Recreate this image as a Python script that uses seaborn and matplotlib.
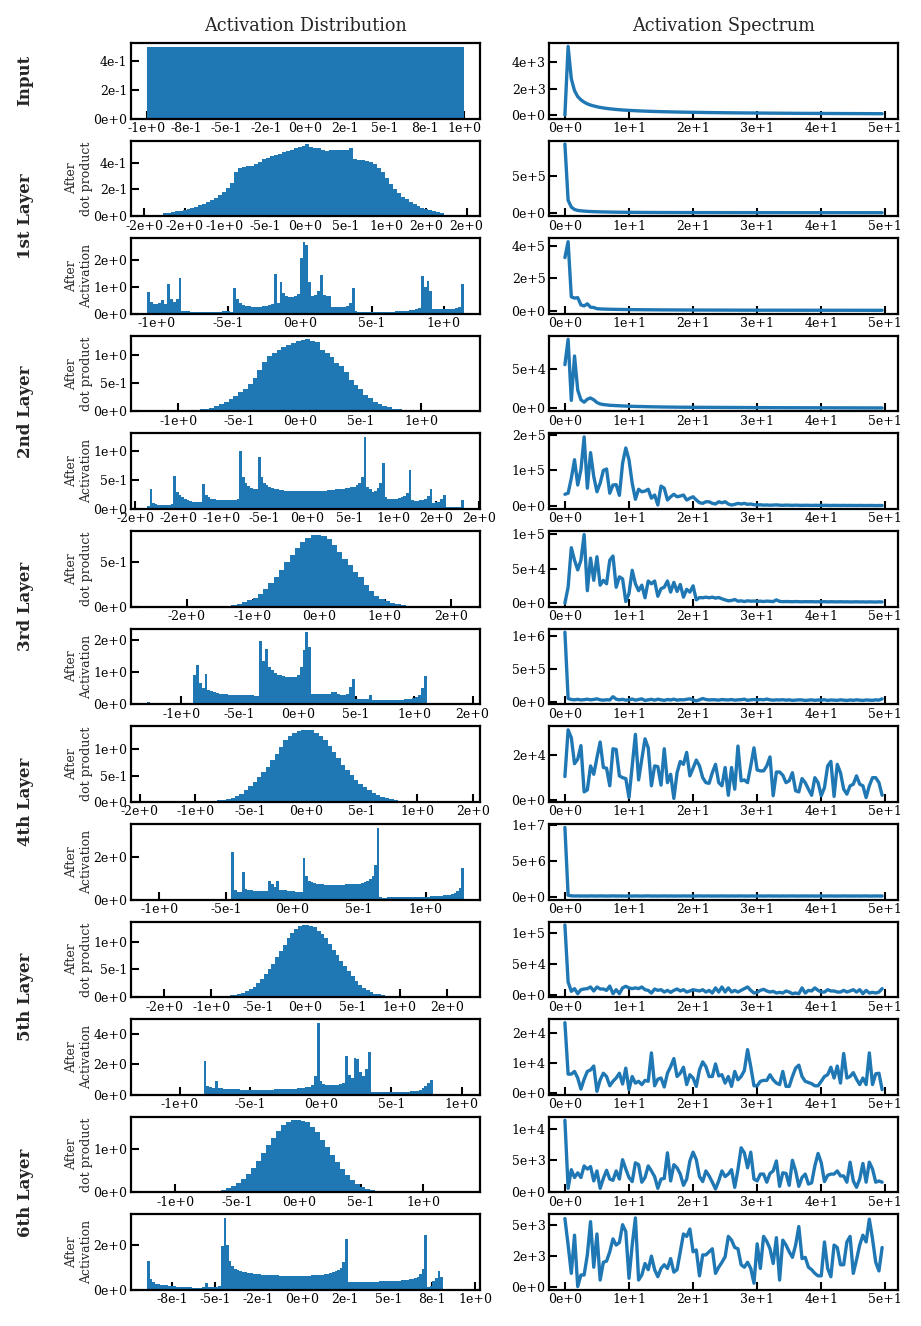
import numpy as np
import pandas as pd
import matplotlib
matplotlib.use("Agg")
import matplotlib.pyplot as plt
from matplotlib.ticker import FuncFormatter
import seaborn as sns

# ---------------- data ----------------
ROW_LABELS = ["Input", "1st Layer", "2nd Layer", "3rd Layer", "4th Layer", "5th Layer", "6th Layer"]
COL_TITLES = ["Activation Distribution", "Activation Spectrum"]
SUB_LABELS = ["After\ndot product", "After\nActivation"]

FREQ_STEP = 0.5  # spectrum sample spacing

# histogram ranges (lo, hi) and bin heights (density)
H_input_range = (-1.0, 1.0)
H_input = [0.5, 0.5, 0.5, 0.5]

H1_dot_range = (-1.97, 1.97)
H1_dot = [0.002, 0.004, 0.006, 0.012, 0.02, 0.026, 0.031, 0.036, 0.042, 0.048,
          0.054, 0.062, 0.07, 0.08, 0.092, 0.105, 0.12, 0.135, 0.155, 0.18,
          0.21, 0.25, 0.33, 0.36, 0.37, 0.375, 0.38, 0.395, 0.41, 0.43,
          0.44, 0.45, 0.46, 0.47, 0.48, 0.49, 0.5, 0.51, 0.52, 0.53,
          0.54, 0.52, 0.515, 0.51, 0.5, 0.49, 0.495, 0.5, 0.495, 0.5,
          0.5, 0.51, 0.43, 0.425, 0.42, 0.415, 0.41, 0.39, 0.36, 0.33,
          0.29, 0.24, 0.2, 0.17, 0.145, 0.125, 0.105, 0.09, 0.077, 0.06,
          0.055, 0.045, 0.036, 0.028, 0.02, 0.012, 0.007, 0.004, 0.002, 0.001]

H1_act_range = (-1.068, 1.143)
H1_act = [0.8, 0.45, 0.35, 0.35, 0.4, 0.5, 0.35, 1.1, 0.55, 0.45,
          0.55, 1.35, 0.09, 0.09, 0.09, 0.08, 0.08, 0.08, 0.08, 0.07,
          0.07, 0.07, 0.07, 0.07, 0.08, 0.08, 0.09, 0.09, 0.1, 0.08,
          0.95, 0.55, 0.4, 0.33, 0.3, 0.28, 0.27, 0.26, 0.26, 0.27,
          0.28, 0.3, 0.33, 0.38, 1.5, 0.4, 1.2, 0.78, 0.68, 0.62,
          0.62, 0.66, 0.75, 2.1, 2.7, 2.6, 1.2, 0.66, 0.7, 0.85,
          1.45, 0.72, 0.66, 0.66, 0.26, 0.25, 0.25, 0.26, 0.27, 0.3,
          0.4, 0.95, 0.09, 0.08, 0.07, 0.07, 0.07, 0.07, 0.07, 0.07,
          0.07, 0.07, 0.07, 0.07, 0.07, 0.08, 0.09, 0.1, 0.1, 0.11,
          0.12, 0.13, 0.15, 0.17, 0.2, 1.4, 1.0, 1.22, 0.85, 0.17,
          0.17, 0.17, 0.17, 0.17, 0.17, 0.18, 0.19, 0.2, 0.25, 1.13]

H2_dot_range = (-1.26, 1.355)
H2_dot = [0.001, 0.001, 0.002, 0.003, 0.004, 0.006, 0.008, 0.011, 0.015, 0.02,
          0.03, 0.04, 0.05, 0.065, 0.1, 0.13, 0.17, 0.22, 0.28, 0.34,
          0.4, 0.48, 0.6, 0.74, 0.88, 0.98, 1.04, 1.09, 1.14, 1.19,
          1.22, 1.25, 1.27, 1.28, 1.26, 1.23, 1.1, 1.04, 0.97, 0.86,
          0.8, 0.7, 0.56, 0.47, 0.39, 0.3, 0.23, 0.17, 0.13, 0.1,
          0.07, 0.05, 0.035, 0.025, 0.018, 0.012, 0.008, 0.006, 0.004, 0.003,
          0.002, 0.002, 0.001, 0.001, 0.001, 0.001]

H2_act_range = (-1.865, 1.825)
H2_act = [0.05, 0.34, 0.1, 0.08, 0.07, 0.07, 0.07, 0.07, 0.07, 0.08,
          0.58, 0.3, 0.24, 0.2, 0.17, 0.15, 0.14, 0.13, 0.12, 0.12,
          0.12, 0.43, 0.25, 0.2, 0.18, 0.17, 0.16, 0.16, 0.15, 0.15,
          0.15, 0.15, 0.16, 0.16, 0.17, 1.0, 0.55, 0.45, 0.4, 0.37,
          0.35, 0.34, 0.9, 0.55, 0.45, 0.41, 0.38, 0.36, 0.35, 0.34,
          0.33, 0.33, 0.32, 0.32, 0.32, 0.32, 0.32, 0.32, 0.32, 0.32,
          0.32, 0.32, 0.32, 0.32, 0.32, 0.32, 0.32, 0.32, 0.33, 0.33,
          0.33, 0.34, 0.34, 0.35, 0.35, 0.36, 0.37, 0.38, 0.39, 0.41,
          0.45, 0.55, 1.25, 0.38, 0.34, 0.3, 0.32, 0.36, 0.45, 0.8,
          0.2, 0.18, 0.17, 0.17, 0.18, 0.19, 0.2, 0.22, 0.28, 0.68,
          0.15, 0.14, 0.14, 0.15, 0.16, 0.18, 0.22, 0.35, 0.1, 0.12,
          0.13, 0.18, 0.25, 0.03, 0.03, 0.03, 0.03, 0.03, 0.04, 0.16]

H3_dot_range = (-2.607, 2.204)
H3_dot = [0, 0, 0, 0, 0, 0, 0, 0, 0, 0,
          0.001, 0.002, 0.003, 0.005, 0.007, 0.01, 0.018, 0.03, 0.05, 0.07,
          0.1, 0.14, 0.2, 0.26, 0.33, 0.41, 0.5, 0.58, 0.66, 0.72,
          0.77, 0.795, 0.803, 0.79, 0.75, 0.69, 0.61, 0.53, 0.47, 0.39,
          0.33, 0.24, 0.18, 0.12, 0.085, 0.058, 0.04, 0.025, 0.015, 0.008,
          0.005, 0.003, 0.002, 0.001, 0.001, 0, 0, 0, 0, 0]

H3_act_range = (-1.295, 1.427)
H3_act = [0.08, 0, 0, 0, 0, 0, 0, 0, 0, 0,
          0, 0, 0, 0, 0, 0, 0.9, 1.22, 0.65, 0.5,
          0.94, 0.45, 0.4, 0.37, 0.35, 0.33, 0.32, 0.31, 0.3, 0.29,
          0.29, 0.28, 0.28, 0.28, 0.28, 0.28, 0.28, 0.27, 0.27, 1.95,
          1.35, 1.71, 1.17, 1.05, 0.96, 0.92, 0.9, 0.88, 0.86, 0.85,
          0.84, 0.85, 0.9, 1.17, 1.69, 2.23, 1.79, 0.33, 0.32, 0.32,
          0.32, 0.32, 0.32, 0.33, 0.39, 0.38, 0.31, 0.3, 0.3, 0.32,
          0.55, 0.78, 0.16, 0.165, 0.165, 0.165, 0.17, 0.29, 0.125, 0.125,
          0.125, 0.125, 0.125, 0.125, 0.125, 0.13, 0.13, 0.135, 0.14, 0.15,
          0.16, 0.17, 0.19, 0.22, 0.3, 0.5, 0.88, 0, 0, 0,
          0, 0, 0, 0, 0, 0, 0, 0, 0, 0]

H4_dot_range = (-1.435, 1.421)
H4_dot = [0, 0, 0, 0, 0, 0.001, 0.001, 0.002, 0.002, 0.003,
          0.003, 0.005, 0.007, 0.01, 0.014, 0.02, 0.03, 0.045, 0.06, 0.08,
          0.11, 0.15, 0.22, 0.3, 0.38, 0.47, 0.56, 0.67, 0.8, 0.92,
          1.05, 1.18, 1.25, 1.31, 1.35, 1.37, 1.37, 1.36, 1.31, 1.25,
          1.17, 1.07, 0.95, 0.84, 0.71, 0.6, 0.51, 0.42, 0.35, 0.28,
          0.22, 0.17, 0.13, 0.1, 0.07, 0.05, 0.03, 0.02, 0.013, 0.009,
          0.006, 0.005, 0.004, 0.003, 0.002, 0.002, 0.001, 0.001, 0, 0, 0, 0]

H4_act_range = (-1.093, 1.288)
H4_act = [0, 0, 0, 0, 0, 0, 0, 0, 0, 0,
          0, 0, 0, 0, 0, 0, 0, 0, 0, 0,
          0, 0, 0, 0, 0, 0, 0, 0, 0, 0,
          0, 0, 2.19, 0.45, 0.36, 0.33, 1.27, 0.48, 0.44, 0.42,
          0.41, 0.41, 0.4, 0.4, 0.4, 0.4, 0.84, 0.7, 0.6, 0.84,
          0.44, 0.43, 0.42, 0.41, 0.4, 0.38, 0.37, 0.37, 0.37, 1.94,
          1.1, 0.88, 0.82, 0.77, 0.74, 0.72, 0.7, 0.69, 0.68, 0.68,
          0.68, 0.68, 0.68, 0.69, 0.69, 0.7, 0.7, 0.71, 0.72, 0.73,
          0.74, 0.77, 0.8, 0.86, 0.95, 1.1, 1.6, 3.35, 0.1, 0.09,
          0.09, 0.095, 0.095, 0.1, 0.1, 0.1, 0.1, 0.1, 0.105, 0.11,
          0.11, 0.11, 0.115, 0.12, 0.12, 0.125, 0.13, 0.14, 0.15, 0.16,
          0.17, 0.18, 0.19, 0.21, 0.23, 0.26, 0.3, 0.38, 0.55, 1.48]

H5_dot_range = (-1.682, 1.68)
H5_dot = [0, 0, 0, 0, 0, 0, 0.001, 0.001, 0.001, 0.002,
          0.002, 0.003, 0.003, 0.004, 0.005, 0.006, 0.007, 0.008, 0.009, 0.01,
          0.012, 0.02, 0.03, 0.045, 0.06, 0.08, 0.11, 0.14, 0.19, 0.26,
          0.33, 0.41, 0.5, 0.6, 0.72, 0.84, 0.95, 1.06, 1.16, 1.24,
          1.28, 1.3, 1.3, 1.29, 1.26, 1.2, 1.14, 1.06, 0.96, 0.86,
          0.76, 0.66, 0.57, 0.47, 0.38, 0.3, 0.22, 0.16, 0.12, 0.09,
          0.065, 0.05, 0.04, 0.025, 0.02, 0.015, 0.01, 0.008, 0.006, 0.005,
          0.004, 0.003, 0.003, 0.002, 0.002, 0.001, 0.001, 0.001, 0, 0, 0, 0, 0, 0]

H5_act_range = (-1.235, 1.017)
H5_act = [0, 0, 0, 0, 0, 0, 0, 0, 0, 0,
          0, 0, 0, 0, 0, 0, 0, 0, 0, 0,
          2.2, 0.6, 0.48, 0.44, 0.92, 0.47, 0.42, 0.4, 0.38, 0.37,
          0.36, 0.35, 0.35, 0.34, 0.34, 0.33, 0.33, 0.33, 0.33, 0.33,
          0.33, 0.33, 0.34, 0.34, 0.34, 0.35, 0.35, 0.36, 0.37, 0.38,
          0.39, 0.4, 0.41, 0.42, 0.44, 0.46, 0.48, 0.52, 0.65, 1.25,
          4.72, 0.9, 0.7, 0.66, 0.65, 0.64, 0.64, 0.66, 0.68, 0.75,
          2.53, 1.3, 1.1, 2.4, 2.35, 1.5, 1.25, 1.7, 2.8, 0.15,
          0.15, 0.15, 0.15, 0.16, 0.16, 0.16, 0.17, 0.17, 0.18, 0.18,
          0.19, 0.2, 0.21, 0.22, 0.24, 0.26, 0.3, 0.45, 0.6, 0.8,
          1.0, 0, 0, 0, 0, 0, 0, 0, 0, 0, 0, 0]

H6_dot_range = (-1.228, 1.33)
H6_dot = [0, 0, 0, 0, 0, 0.001, 0.001, 0.002, 0.003, 0.004,
          0.005, 0.007, 0.01, 0.015, 0.025, 0.05, 0.09, 0.15, 0.21, 0.3,
          0.43, 0.56, 0.72, 0.92, 1.1, 1.25, 1.42, 1.55, 1.62, 1.66,
          1.66, 1.65, 1.62, 1.52, 1.4, 1.22, 1.04, 0.86, 0.7, 0.53,
          0.39, 0.28, 0.19, 0.13, 0.08, 0.045, 0.025, 0.012, 0.008, 0.005,
          0.003, 0.002, 0.001, 0.001, 0, 0, 0, 0, 0, 0, 0, 0, 0, 0]

H6_act_range = (-0.895, 0.937)
H6_act = [1.29, 0.47, 0.36, 0.28, 0.25, 0.23, 0.22, 0.21, 0.2, 0.18,
          0.16, 0.15, 0.14, 0.13, 0.12, 0.12, 0.12, 0.11, 0.11, 0.11,
          0.11, 0.12, 0.33, 0.15, 0.14, 0.15, 0.15, 0.16, 1.95, 3.2,
          2.0, 1.3, 1.05, 0.95, 0.88, 0.84, 0.81, 0.79, 0.77, 0.74,
          0.72, 0.7, 0.69, 0.68, 0.67, 0.67, 0.66, 0.66, 0.65, 0.65,
          0.64, 0.64, 0.64, 0.64, 0.64, 0.64, 0.64, 0.64, 0.64, 0.64,
          0.64, 0.64, 0.65, 0.65, 0.66, 0.67, 0.68, 0.7, 0.72, 0.75,
          0.78, 0.83, 0.9, 1.0, 1.25, 2.27, 0.34, 0.34, 0.34, 0.34,
          0.35, 0.35, 0.35, 0.35, 0.36, 0.36, 0.37, 0.37, 0.38, 0.38,
          0.39, 0.39, 0.4, 0.41, 0.41, 0.42, 0.43, 0.44, 0.46, 0.48,
          0.5, 0.54, 0.6, 0.7, 0.95, 2.45, 0.12, 0.18, 0.42, 0.55,
          0.86, 0.56, 0, 0, 0, 0, 0, 0, 0, 0]

# spectra (100 samples, spacing 0.5)
S_input = [0, 5200, 2750, 1850, 1400, 1150, 980, 850, 760, 690,
           630, 580, 540, 505, 475, 450, 425, 405, 385, 370,
           355, 342, 330, 318, 308, 298, 289, 281, 273, 266,
           259, 253, 247, 241, 236, 231, 226, 221, 217, 213,
           209, 205, 201, 198, 194, 191, 188, 185, 182, 179,
           176, 174, 171, 169, 166, 164, 162, 160, 158, 156,
           154, 152, 150, 148, 146, 144, 143, 141, 139, 138,
           136, 135, 133, 132, 130, 129, 128, 126, 125, 124,
           123, 121, 120, 119, 118, 117, 116, 115, 114, 113,
           112, 111, 110, 109, 108, 107, 106, 105, 104, 103]

S1_dot = [930000, 170000, 77000, 45000, 32000, 27000, 23000, 20000, 17500, 15500,
          14000, 13000, 12000, 11000, 10000, 9300, 8600, 8000, 7500, 7000,
          6500, 6200, 5900, 5600, 5300, 5100, 4900, 4700, 4500, 4300,
          4100, 4000, 3900, 3800, 3700, 3600, 3500, 3400, 3300, 3200,
          3100, 3050, 3000, 2950, 2900, 2850, 2800, 2750, 2700, 2650,
          2600, 2570, 2540, 2510, 2480, 2450, 2420, 2390, 2360, 2330,
          2300, 2270, 2240, 2210, 2180, 2150, 2120, 2090, 2060, 2030,
          2000, 1980, 1960, 1940, 1920, 1900, 1880, 1860, 1840, 1820,
          1800, 1780, 1760, 1740, 1720, 1700, 1680, 1660, 1640, 1620,
          1600, 1590, 1580, 1570, 1560, 1550, 1540, 1530, 1520, 1510]

S1_act = [327000, 425000, 85000, 77000, 80000, 35000, 29000, 42000, 21000, 19000,
          12000, 10500, 9500, 9000, 8500, 8000, 7600, 7200, 6900, 6600,
          6300, 6100, 5900, 5700, 5500, 5300, 5100, 4950, 4800, 4650,
          4500, 4400, 4300, 4200, 4100, 4000, 3900, 3800, 3700, 3600,
          3550, 3500, 3450, 3400, 3350, 3300, 3250, 3200, 3150, 3100,
          3050, 3000, 2950, 2900, 2850, 2800, 2750, 2700, 2650, 2600,
          2580, 2560, 2540, 2520, 2500, 2480, 2460, 2440, 2420, 2400,
          2380, 2360, 2340, 2320, 2300, 2280, 2260, 2240, 2220, 2200,
          2180, 2160, 2140, 2120, 2100, 2080, 2060, 2040, 2020, 2000,
          1980, 1960, 1940, 1920, 1900, 1880, 1860, 1840, 1820, 1800]

S2_dot = [55000, 87000, 10000, 66000, 23000, 10700, 7700, 11500, 13000, 10700,
          7300, 5500, 4700, 4300, 3800, 3600, 3400, 3200, 3000, 2800,
          2600, 2500, 2400, 2300, 2200, 2100, 2000, 1900, 1850, 1800,
          1700, 1650, 1600, 1550, 1500, 1450, 1400, 1380, 1360, 1330,
          1300, 1280, 1260, 1240, 1220, 1200, 1180, 1160, 1140, 1120,
          1100, 1080, 1060, 1040, 1020, 1000, 980, 960, 940, 920,
          900, 880, 860, 840, 820, 800, 790, 780, 770, 760,
          750, 740, 730, 720, 710, 700, 690, 680, 670, 660,
          650, 640, 630, 620, 610, 600, 590, 580, 570, 560,
          550, 540, 530, 520, 510, 500, 490, 480, 470, 460]

S2_act = [33000, 36000, 78000, 130000, 59000, 102000, 194000, 50000, 150000, 83000,
          40000, 64000, 100000, 104000, 36000, 59000, 60000, 30000, 120000, 163000,
          130000, 64000, 19000, 47000, 40000, 42000, 47000, 22000, 31000, 3000,
          56000, 50000, 17000, 26000, 33000, 26000, 28000, 31000, 17000, 22000,
          26000, 17000, 9400, 7500, 12000, 12000, 7500, 5700, 12000, 9000,
          12000, 5700, 2800, 4700, 7500, 5700, 7500, 4700, 5700, 3800,
          2800, 3500, 2500, 3000, 2200, 2800, 3200, 2400, 2000, 2600,
          2300, 1900, 2500, 2100, 1800, 2200, 2000, 1700, 2100, 1900,
          1600, 2000, 1800, 1500, 1900, 1700, 1600, 1800, 1500, 1700,
          1600, 1400, 1700, 1500, 1400, 1600, 1500, 1300, 1500, 1400]

S3_dot = [0, 23000, 80000, 62000, 48000, 62000, 99000, 18000, 65000, 33000,
          67000, 26000, 33000, 28000, 62000, 68000, 23000, 38000, 35000, 2400,
          14000, 47500, 28000, 18000, 26000, 7800, 32000, 28000, 32000, 10000,
          21000, 23000, 32000, 16000, 30000, 17000, 27000, 8700, 20000, 16000,
          25000, 4800, 8200, 7800, 8700, 7800, 8700, 7300, 8200, 6300,
          4800, 3400, 3900, 5300, 2900, 3400, 2400, 3400, 2900, 3100,
          2600, 2900, 2400, 3000, 2700, 2300, 4800, 2600, 2200, 2400,
          2300, 2100, 2400, 2200, 2000, 2300, 2100, 2200, 2000, 2100,
          2000, 2200, 1900, 2100, 2000, 1900, 2100, 1900, 2000, 1800,
          1900, 2000, 1800, 1900, 1700, 1900, 1800, 1700, 1900, 1800]

S3_act = [1060000, 50000, 35000, 30000, 38000, 28000, 33000, 40000, 30000, 36000,
          45000, 30000, 25000, 32000, 28000, 78000, 40000, 30000, 38000, 25000,
          30000, 42000, 25000, 35000, 45000, 20000, 30000, 38000, 25000, 40000,
          30000, 22000, 35000, 28000, 40000, 25000, 32000, 30000, 38000, 45000,
          28000, 15000, 30000, 50000, 35000, 28000, 32000, 30000, 25000, 35000,
          30000, 28000, 35000, 25000, 30000, 32000, 40000, 22000, 30000, 35000,
          28000, 35000, 30000, 42000, 30000, 25000, 30000, 28000, 32000, 25000,
          30000, 22000, 25000, 30000, 28000, 20000, 25000, 30000, 22000, 28000,
          25000, 32000, 20000, 28000, 25000, 22000, 30000, 25000, 20000, 28000,
          22000, 30000, 25000, 20000, 28000, 25000, 22000, 30000, 25000, 45000]

S4_dot = [10300, 31000, 27500, 16000, 18000, 24000, 3500, 4400, 15000, 11300,
          18700, 25600, 14300, 14000, 6200, 22600, 22300, 10600, 9800, 9400,
          1000, 15000, 29000, 8800, 18000, 27000, 23000, 6200, 15000, 14700,
          6500, 22600, 7600, 11300, 600, 12000, 17000, 15700, 21000, 10600,
          14000, 17600, 15000, 9800, 7600, 7300, 12000, 15700, 7600, 6200,
          14300, 2000, 14300, 4700, 23800, 8400, 8800, 7600, 15000, 23000,
          13200, 12800, 12800, 15000, 19000, 1800, 12300, 12300, 10900, 7600,
          8400, 12000, 4000, 3500, 9400, 7600, 4700, 2000, 9800, 7600,
          1800, 5400, 15000, 17000, 1500, 15700, 12000, 4700, 2500, 6200,
          6900, 10600, 6900, 6200, 1000, 6200, 9800, 9800, 7600, 2000]

S4_act = [9700000, 190000, 110000, 90000, 100000, 85000, 95000, 80000, 105000, 90000,
          85000, 100000, 95000, 80000, 90000, 110000, 85000, 95000, 90000, 80000,
          95000, 85000, 100000, 90000, 80000, 95000, 105000, 85000, 90000, 80000,
          90000, 100000, 85000, 95000, 80000, 90000, 85000, 100000, 90000, 95000,
          80000, 90000, 105000, 85000, 90000, 95000, 80000, 90000, 85000, 100000,
          90000, 80000, 95000, 85000, 90000, 100000, 85000, 80000, 95000, 90000,
          85000, 95000, 80000, 90000, 100000, 85000, 90000, 80000, 95000, 85000,
          90000, 100000, 85000, 80000, 95000, 90000, 85000, 95000, 80000, 90000,
          100000, 85000, 90000, 95000, 80000, 85000, 90000, 100000, 85000, 90000,
          80000, 95000, 85000, 90000, 100000, 80000, 85000, 95000, 90000, 85000]

S5_dot = [113000, 20600, 5400, 9800, 1600, 8100, 9200, 9800, 12500, 6000,
          12500, 9200, 9200, 7000, 14000, 1600, 8100, 1600, 11000, 13600,
          11000, 9800, 11000, 9800, 12500, 8100, 7000, 2700, 9200, 7000,
          8100, 4300, 7000, 3800, 7000, 9200, 6000, 8100, 4300, 6000,
          8100, 7000, 6000, 8100, 4300, 7000, 2700, 11000, 4300, 12500,
          4300, 11000, 4300, 7000, 4300, 7000, 9800, 12500, 7000, 2700,
          3800, 7000, 8700, 6000, 4300, 5400, 2700, 3800, 2700, 6000,
          4300, 1600, 2700, 1600, 11000, 2700, 7000, 6000, 11000, 7000,
          4300, 4300, 8100, 6000, 6000, 4300, 4300, 7000, 4300, 6000,
          8100, 4300, 8100, 1600, 7000, 2700, 3800, 2700, 4300, 9800]

S5_act = [23500, 6300, 6300, 7200, 5000, 1300, 4600, 7200, 7700, 9000,
          550, 4400, 6600, 5500, 2400, 3900, 5000, 6600, 3000, 8300,
          1100, 5500, 3300, 3900, 2800, 4200, 3900, 13400, 2400, 4600,
          5000, 2000, 6600, 8800, 11500, 5500, 6600, 8600, 2800, 6100,
          5000, 2200, 7700, 10400, 8800, 5500, 5500, 9700, 5700, 6100,
          3300, 5500, 2200, 7200, 4400, 5500, 7500, 14500, 8800, 2400,
          2400, 3900, 4200, 4200, 6100, 4400, 3300, 2800, 7200, 2200,
          2200, 5500, 8300, 9300, 5500, 3900, 3500, 3100, 2400, 2400,
          3900, 5500, 6100, 8600, 5000, 9000, 3300, 13200, 5000, 5500,
          6800, 4600, 2800, 5000, 2800, 13400, 2800, 6400, 6600, 1100]

S6_dot = [11400, 520, 3500, 2250, 3000, 2250, 4100, 3600, 4000, 1700,
          3300, 520, 2100, 3400, 2000, 1800, 3300, 2000, 5100, 3600,
          2250, 1600, 4600, 4300, 1500, 2250, 4100, 3300, 2400, 520,
          2000, 2100, 6200, 1700, 4300, 3800, 2800, 1000, 2000, 4900,
          6300, 5100, 2400, 1600, 3300, 2500, 1500, 420, 1700, 3300,
          2400, 2800, 3500, 680, 3500, 7000, 6200, 3800, 6300, 2000,
          1700, 2800, 2800, 1500, 2900, 3300, 4900, 840, 3000, 2900,
          1000, 5000, 3300, 840, 2250, 2800, 1200, 1400, 4100, 6100,
          4600, 1600, 2600, 2800, 2800, 3300, 2500, 2500, 1500, 4700,
          1700, 680, 2000, 4500, 1500, 4700, 3600, 1500, 1700, 1500]

S6_act = [5550, 3400, 1100, 4200, 30, 970, 970, 2600, 5300, 1600,
          4300, 560, 2000, 2100, 2850, 3900, 3400, 3600, 5050, 4500,
          700, 3400, 5600, 560, 970, 1900, 1400, 2500, 1400, 830,
          1500, 1800, 1500, 2300, 1200, 1400, 2850, 4300, 4100, 4700,
          2850, 3000, 900, 2600, 2600, 2850, 3100, 1100, 1600, 2000,
          2450, 4100, 3800, 3200, 3100, 1800, 1600, 2000, 1500, 300,
          3500, 1500, 4100, 3700, 3100, 1900, 4000, 560, 3800, 3400,
          2850, 2400, 3400, 4900, 2300, 2400, 1600, 1400, 1100, 900,
          900, 3650, 1500, 830, 3400, 3200, 1800, 1800, 3650, 4100,
          1100, 2200, 3400, 4200, 3650, 5500, 3900, 2000, 1300, 3200]

ROWS = [
    (H_input_range, H_input, S_input),
    (H1_dot_range, H1_dot, S1_dot),
    (H1_act_range, H1_act, S1_act),
    (H2_dot_range, H2_dot, S2_dot),
    (H2_act_range, H2_act, S2_act),
    (H3_dot_range, H3_dot, S3_dot),
    (H3_act_range, H3_act, S3_act),
    (H4_dot_range, H4_dot, S4_dot),
    (H4_act_range, H4_act, S4_act),
    (H5_dot_range, H5_dot, S5_dot),
    (H5_act_range, H5_act, S5_act),
    (H6_dot_range, H6_dot, S6_dot),
    (H6_act_range, H6_act, S6_act),
]

# ---------------- style ----------------
sns.set_style("white")
plt.rcParams['font.family'] = ['DejaVu Serif']
plt.rcParams['axes.edgecolor'] = 'black'
plt.rcParams['axes.linewidth'] = 1.6
BLUE = '#1f77b4'


def sci_fmt(v, pos=None):
    if abs(v) < 1e-9:
        v = 0.0
    s = f"{v:.0e}"
    m, e = s.split('e')
    ei = int(e)
    return f"{m}e{'+' if ei >= 0 else '-'}{abs(ei)}"


fig, axes = plt.subplots(13, 2, figsize=(9.21, 13.26), dpi=100)
fig.subplots_adjust(left=131 / 921, right=898 / 921, top=1 - 43 / 1326,
                    bottom=1 - 1290 / 1326, hspace=0.293, wspace=0.198)

for r, (rng, heights, spec) in enumerate(ROWS):
    axh, axs = axes[r, 0], axes[r, 1]
    h = np.asarray(heights, dtype=float)
    edges = np.linspace(rng[0], rng[1], len(h) + 1)
    centers = 0.5 * (edges[:-1] + edges[1:])
    hdf = pd.DataFrame({"value": centers, "density": h})
    sns.histplot(data=hdf, x="value", weights="density", bins=list(edges),
                 ax=axh, color=BLUE, alpha=1.0, linewidth=0, stat='count')

    s = np.asarray(spec, dtype=float)
    sdf = pd.DataFrame({"freq": np.arange(len(s)) * FREQ_STEP, "amp": s})
    sns.lineplot(data=sdf, x="freq", y="amp", ax=axs, color=BLUE, linewidth=2.4)

    for ax in (axh, axs):
        ax.set_xlabel("")
        ax.set_ylabel("")
        ax.xaxis.set_major_formatter(FuncFormatter(sci_fmt))
        ax.yaxis.set_major_formatter(FuncFormatter(sci_fmt))
        ax.tick_params(direction='in', length=6, width=1.5, labelsize=9,
                       pad=2.5, colors='black', bottom=True, left=True)
        for sp in ax.spines.values():
            sp.set_linewidth(1.6)
            sp.set_color('black')

    if r > 0:
        axh.set_ylabel(SUB_LABELS[0] if r % 2 == 1 else SUB_LABELS[1], fontsize=9)
        axh.yaxis.set_label_coords(-0.11, 0.5)

axes[0, 0].set_title(COL_TITLES[0], fontsize=12.7, pad=8.5)
axes[0, 1].set_title(COL_TITLES[1], fontsize=12.7, pad=8.5)

# row labels
x_lab = 25 / 921
p0 = axes[0, 0].get_position()
fig.text(x_lab, (p0.y0 + p0.y1) / 2, ROW_LABELS[0], rotation=90, ha='center',
         va='center', fontsize=12, fontweight='bold')
for k in range(1, 7):
    p = axes[2 * k - 1, 0].get_position()
    fig.text(x_lab, p.y0, ROW_LABELS[k], rotation=90, ha='center', va='center',
             fontsize=12, fontweight='bold')

fig.savefig("out.png", dpi=100, facecolor='white')
